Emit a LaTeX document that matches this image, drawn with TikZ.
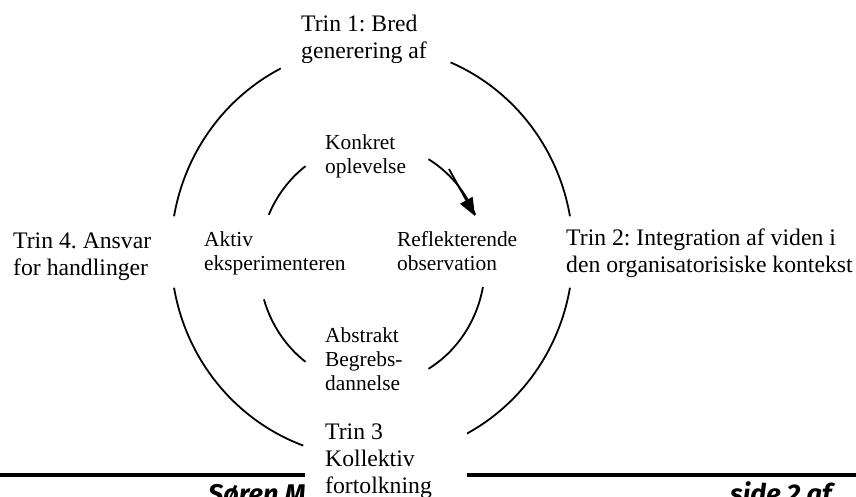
\documentclass[tikz,border=0pt]{standalone}
\usepackage{fontspec}
\setmainfont{Liberation Serif}
\newfontfamily\footfont{Fira Sans}
\usetikzlibrary{arrows.meta}
\frenchspacing
\tikzset{
  ring/.style     = {line width=1.8pt},
  outertxt/.style = {align=left, anchor=base west, inner sep=0pt,
                     font=\fontsize{23.7}{27}\selectfont},
  innertxt/.style = {align=left, anchor=base west, inner sep=0pt,
                     font=\fontsize{21.4}{24}\selectfont},
  foottxt/.style  = {anchor=base west, inner sep=0pt,
                     font=\footfont\bfseries\itshape\fontsize{27}{30}\selectfont},
  flow/.style     = {-{Triangle[length=18pt,width=14pt]}, line width=1.8pt},
}

\begin{document}
\begin{tikzpicture}[x=1pt,y=-1pt]
    \useasboundingbox (0,0) rectangle (856,497);
    % centres of the two rings
    \coordinate (outc) at (372,252);
    \coordinate (inc) at (372,264);
    % outer ring
    \draw[ring] ([shift={(190:201 and 206)}]outc) arc[start angle=190, end angle=243, x radius=201, y radius=206];
    \draw[ring] ([shift={(293:201 and 206)}]outc) arc[start angle=293, end angle=350, x radius=201, y radius=206];
    \draw[ring] ([shift={(10:201 and 206)}]outc) arc[start angle=10, end angle=62, x radius=201, y radius=206];
    \draw[ring] ([shift={(110:201 and 206)}]outc) arc[start angle=110, end angle=170, x radius=201, y radius=206];
    % inner ring
    \draw[ring] ([shift={(204:113 and 121)}]inc) arc[start angle=204, end angle=234, x radius=113, y radius=121];
    \draw[ring] ([shift={(300:113 and 121)}]inc) arc[start angle=300, end angle=336, x radius=113, y radius=121];
    \draw[ring] ([shift={(11:113 and 121)}]inc) arc[start angle=11, end angle=60, x radius=113, y radius=121];
    \draw[ring] ([shift={(126:113 and 121)}]inc) arc[start angle=126, end angle=163, x radius=113, y radius=121];
    % arrow head on the inner ring
    \coordinate (tail) at (449,169);
    \coordinate (tip) at (475,216);
    \draw[flow] (tail) -- (tip);
    % footer
    \draw[line width=4pt] (0,475) -- (856,475);
    \node[foottxt] (author) at (208,503) {Søren M};
    \node[foottxt] (page) at (730,503) {side 2 af};
    % stages (anchor = baseline of last line)
    \begin{scope}
      \clip (280,0) rectangle (450,63);
      \node[outertxt] (trin1) at (301,59) {Trin 1: Bred\\generering af};
    \end{scope}
    \node[outertxt] (trin2) at (566,272) {Trin 2: Integration af viden i\\den organisatorisiske kontekst};
    \fill[white] (305,412) rectangle (467,497);
    \node[outertxt] (trin3) at (325,493) {Trin 3\\Kollektiv\\fortolkning};
    \node[outertxt] (trin4) at (13,275) {Trin 4. Ansvar\\for handlinger};
    % learning cycle
    \node[innertxt] (konkret) at (325,174) {Konkret\\oplevelse};
    \node[innertxt] (reflek) at (397,270) {Reflekterende\\observation};
    \node[innertxt] (abstrakt) at (325,390) {Abstrakt\\Begrebs-\\dannelse};
    \node[innertxt] (aktiv) at (204,270) {Aktiv\\eksperimenteren};
\end{tikzpicture}
\end{document}
